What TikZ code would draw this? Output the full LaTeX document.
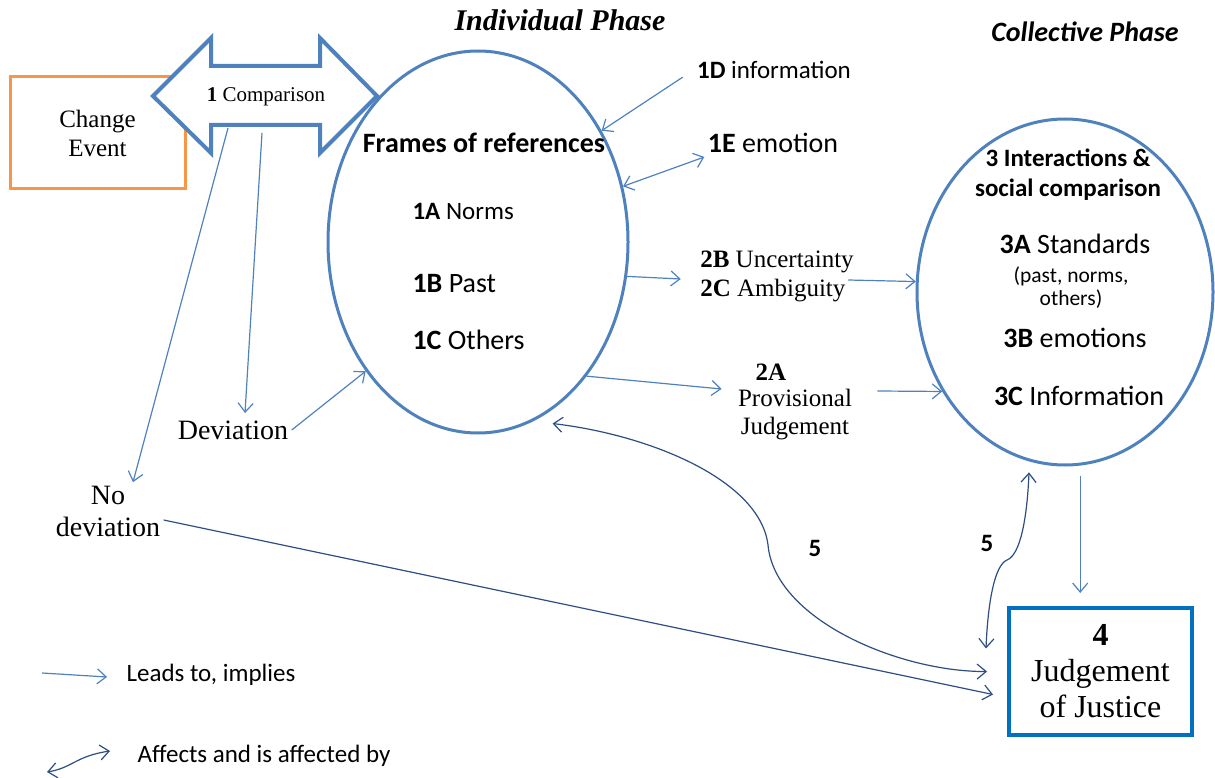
\documentclass[tikz,border=0pt]{standalone}
\usepackage{fontspec}
\setmainfont{Liberation Serif}
\setsansfont{Carlito}
\usetikzlibrary{arrows.meta,positioning,shapes.geometric}

\definecolor{lblue}{RGB}{79,129,189}
\definecolor{dblue}{RGB}{44,78,128}
\definecolor{jblue}{RGB}{0,112,192}
\definecolor{orng}{RGB}{247,150,70}

\begin{document}
\begin{tikzpicture}[
    x=1pt, y=-1pt,
    >={Straight Barb[length=9pt,width=15pt]},
    lead/.style={->, lblue, line width=1.2pt},
    dark/.style={dblue, line width=1.2pt},
    rmA/.style={font=\rmfamily\fontsize{25}{29}\selectfont},
    rmB/.style={font=\rmfamily\fontsize{28}{32}\selectfont},
    sfA/.style={font=\sffamily\fontsize{25}{30}\selectfont},
    sfB/.style={font=\sffamily\fontsize{28}{32}\selectfont},
    oval/.style={ellipse, draw=lblue, line width=3pt}]

    \useasboundingbox (0,0) rectangle (1215,778);

    % vertices

    \node[draw=orng, line width=3pt, minimum width=175pt, minimum height=112pt,
      align=center, rmA] (event) at (97.5,133) {Change\\Event};

    \draw[lblue, line width=4pt, fill=white] (153,96) -- (211,38) -- (211,66)
      -- (320,66) -- (320,38) -- (377,96) -- (320,153) -- (320,125)
      -- (211,125) -- (211,153) -- cycle;
    \node[font=\rmfamily\fontsize{21}{25}\selectfont] (cmp) at (266,97)
      {\textbf{1} Comparison};
    \coordinate (cmpA) at (228,128);
    \coordinate (cmpB) at (262,133);

    \node[oval, minimum width=300pt, minimum height=382pt] (frames) at (478,242) {};
    \node[font=\rmfamily\bfseries\itshape\fontsize{30}{34}\selectfont] (indiv)
      at (560,20) {Individual Phase};
    \node[font=\sffamily\bfseries\fontsize{28}{32}\selectfont] (ftitle)
      at (484,143) {Frames of references};
    \node[sfA, anchor=west] (f1a) at (409,211) {\textbf{1A} Norms};
    \node[sfB, anchor=west] (f1b) at (409,284) {\textbf{1B} Past};
    \node[sfB, anchor=west] (f1c) at (409,340) {\textbf{1C} Others};

    \node[sfA] (info) at (774,70) {\textbf{1D} information};
    \node[sfB] (emo) at (773,143) {\textbf{1E} emotion};

    \node[rmA, align=left] (unc) at (777,276)
      {\textbf{2B} Uncertainty\\\textbf{2C} Ambiguity};
    \node[font=\rmfamily\bfseries\fontsize{25}{29}\selectfont] (t2a)
      at (771,372) {2A};
    \node[align=center, font=\rmfamily\fontsize{25}{28}\selectfont] (prov)
      at (795,415) {Provisional\\Judgement};

    \node[rmB] (dev) at (233,430) {Deviation};
    \node[rmB, align=center] (nodev) at (108,511) {No\\deviation};

    \node[oval, minimum width=296pt, minimum height=346pt] (coll) at (1065,292) {};
    \node[font=\sffamily\bfseries\itshape\fontsize{28}{32}\selectfont] (collt)
      at (1085,32) {Collective Phase};
    \node[font=\sffamily\bfseries\fontsize{25}{30}\selectfont, align=center]
      (c3) at (1068,175) {3 Interactions \&\\social comparison};
    \node[sfB] (c3a) at (1075,244) {\textbf{3A} Standards};
    \node[font=\sffamily\fontsize{21.5}{23}\selectfont, align=center] (cpast)
      at (1071,288) {(past, norms,\\others)};
    \node[sfB] (c3b) at (1075,338) {\textbf{3B} emotions};
    \node[sfB] (c3c) at (1079,396) {\textbf{3C} Information};

    \node[draw=jblue, line width=4pt, minimum width=183pt, minimum height=127pt,
      align=center, font=\rmfamily\fontsize{32}{36}\selectfont] (judge)
      at (1100.5,671.5) {\textbf{4}\\Judgement\\of Justice};

    \node[font=\sffamily\bfseries\fontsize{25}{30}\selectfont] (five1)
      at (815,548) {5};
    \node[font=\sffamily\bfseries\fontsize{25}{30}\selectfont] (five2)
      at (987,543) {5};

    \node[sfA] (leg1) at (211,675) {Leads to, implies};
    \node[sfA] (leg2) at (264,756) {Affects and is affected by};
    \coordinate (lgA) at (42,673);
    \coordinate (lgB) at (47,772);
    \coordinate (lgC) at (110,751);

    % edges

    \draw[lead] (cmpA) -- ([xshift=25pt]nodev.north);
    \draw[lead] (cmpB) -- ([xshift=12pt,yshift=4pt]dev.north);
    \draw[lead] (dev.east) -- (frames.229);
    \draw[lead, shorten <=13pt] (info.west) -- (frames.42);
    \draw[lead, <->] (frames.21) -- ([yshift=-14pt]emo.west);
    \draw[lead] (frames.-13) -- ([xshift=-16pt,yshift=-3pt]unc.west);
    \draw[lead] ([xshift=-9pt,yshift=-4pt]unc.east) -- (coll.176.5);
    \draw[lead] (frames.-51) -- ([xshift=-13pt,yshift=26pt]prov.west);
    \draw[lead] ([xshift=22pt,yshift=24pt]prov.east) -- (coll.219.5);
    \draw[lead, shorten <=10pt, shorten >=13pt] (coll.-85) -- (coll.-85 |- judge.north);

    \draw[dark, ->] ([yshift=-9pt]nodev.east) -- ([xshift=-14pt,yshift=-23pt]judge.west);
    \draw[dark, <->] ([yshift=-14pt]frames.-66) .. controls (650,435) and (760,480)
      .. (768,545) .. controls (775,620) and (900,672) .. ([xshift=-20pt]judge.west);
    \draw[dark, <->] ([yshift=-11pt]coll.-102) .. controls (1027,520) and (1020,555)
      .. (1007,560) .. controls (995,565) and (988,600)
      .. ([xshift=-21pt,yshift=23pt]judge.west);

    \draw[lead] (lgA) -- ([xshift=-16pt,yshift=-2pt]leg1.west);
    \draw[dark, <->] (lgB) .. controls (72,768) and (76,756) .. (lgC);
  \end{tikzpicture}
\end{document}
